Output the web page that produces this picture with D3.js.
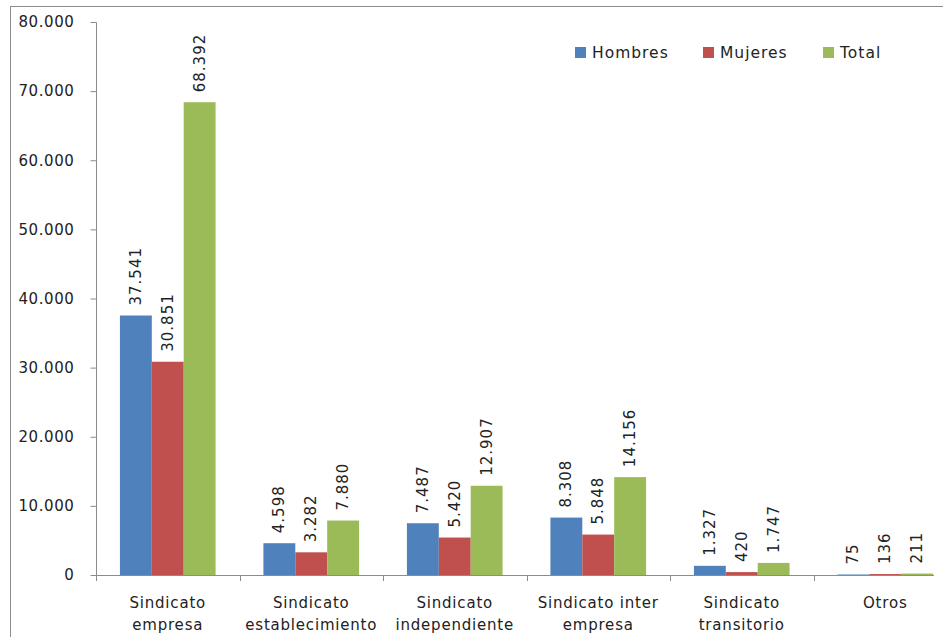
<!DOCTYPE html>
<html><head><meta charset="utf-8">
<script src="https://cdn.jsdelivr.net/npm/d3@7"></script>
<style>
body{margin:0;background:#fff;}
text{font-family:"DejaVu Sans",sans-serif;fill:#222;}
</style></head>
<body>
<svg id="c" width="943" height="637"></svg>
<script>
const categories = [["Sindicato","empresa"],["Sindicato","establecimiento"],["Sindicato","independiente"],["Sindicato inter","empresa"],["Sindicato","transitorio"],["Otros"]];
const seriesNames = ["Hombres","Mujeres","Total"];
const hombres = [37541, 4598, 7487, 8308, 1327, 75];
const mujeres = [30851, 3282, 5420, 5848, 420, 136];
const total = [68392, 7880, 12907, 14156, 1747, 211];
const yTicks = [0,10000,20000,30000,40000,50000,60000,70000,80000];
const colors = ["#4F81BD","#C0504D","#9BBB59"];
const series = [hombres, mujeres, total];

const svg = d3.select("#c");
const fmt = v => d3.format(",")(v).replace(/,/g, ".");

// chart border
svg.append("rect").attr("x",10.5).attr("y",6.5).attr("width",1000).attr("height",700)
  .attr("fill","none").attr("stroke","#8c8c8c").attr("stroke-width",1);

const x0 = d3.scaleBand().domain(d3.range(categories.length)).range([96, 957]).paddingInner(0).paddingOuter(0);
const x1 = d3.scaleBand().domain(d3.range(3)).range([0, x0.bandwidth()]).paddingOuter(0.75).paddingInner(0);
const y = d3.scaleLinear().domain([0,80000]).range([575,22]);

// y axis
const ya = svg.append("g").attr("transform","translate(96.5,0)")
  .call(d3.axisLeft(y).tickValues(yTicks).tickSize(6).tickFormat(fmt));
ya.select(".domain").attr("stroke","#8c8c8c").attr("d","M0,22.5V575.5");
ya.selectAll(".tick line").attr("stroke","#8c8c8c");
ya.selectAll(".tick text").attr("x",-22).attr("font-size","15px").attr("letter-spacing","0.6px")
  .attr("font-family","DejaVu Sans").attr("fill","#222");

// bars
const g = svg.append("g");
series.forEach((vals, si) => {
  g.selectAll(null).data(vals).enter().append("rect")
    .attr("x",(d,i)=>x0(i)+x1(si))
    .attr("width",x1.bandwidth())
    .attr("y",d=>y(d))
    .attr("height",d=>y(0)-y(d))
    .attr("fill",colors[si]);
  g.selectAll(null).data(vals).enter().append("text")
    .attr("transform",(d,i)=>`translate(${x0(i)+x1(si)+x1.bandwidth()/2+5},${y(d)-10}) rotate(-90)`)
    .attr("font-size","15px").attr("letter-spacing","1px")
    .text(d=>fmt(d));
});

// x axis
const xa = svg.append("g");
xa.append("line").attr("x1",96).attr("x2",934).attr("y1",575.5).attr("y2",575.5).attr("stroke","#8c8c8c");
d3.range(categories.length+1).forEach(i=>{
  const xx = Math.round(96 + i*x0.bandwidth())+0.5;
  if (xx < 940) xa.append("line").attr("x1",xx).attr("x2",xx).attr("y1",575).attr("y2",581).attr("stroke","#8c8c8c");
});
categories.forEach((lines,i)=>{
  const t = xa.append("text").attr("x",x0(i)+x0.bandwidth()/2).attr("text-anchor","middle")
    .attr("font-size","15px").attr("letter-spacing","0.8px");
  lines.forEach((l,k)=>t.append("tspan").attr("x",x0(i)+x0.bandwidth()/2).attr("y",608+k*21.5).text(l));
});

// legend
const legX = [575, 703, 823];
seriesNames.forEach((n,i)=>{
  svg.append("rect").attr("x",legX[i]).attr("y",47).attr("width",11).attr("height",11).attr("fill",colors[i]);
  svg.append("text").attr("x",legX[i]+17).attr("y",58).attr("font-size","15.5px").attr("letter-spacing","1px").text(n);
});
</script>
</body></html>
